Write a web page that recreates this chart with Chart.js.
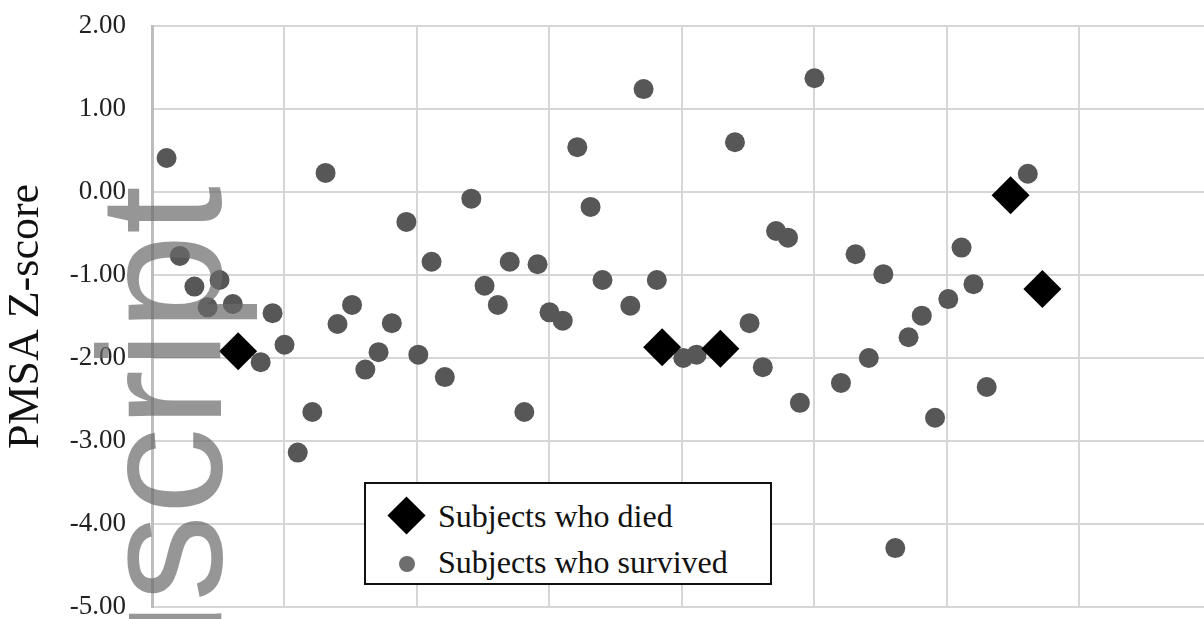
<!DOCTYPE html>
<html>
<head>
<meta charset="utf-8">
<script src="https://cdn.jsdelivr.net/npm/chart.js@4.4.1/dist/chart.umd.min.js"></script>
<style>
  html, body { margin: 0; padding: 0; background: #fff; overflow: hidden; }
  #wrap { position: relative; width: 1204px; height: 619px; }
  #legend {
    position: absolute; left: 364px; top: 482px; width: 404px; height: 99px;
    border: 2px solid #111; background: #fff;
    font-family: "Liberation Serif", "DejaVu Serif", serif; font-size: 32px; color: #111;
  }
  .row { position: absolute; left: 0; right: 0; height: 40px; line-height: 40px; white-space: nowrap; }
  .mk { position: absolute; }
  .txt { position: absolute; left: 72px; top: 0; }
</style>
</head>
<body>
<div id="wrap">
  <canvas id="chart" width="1204" height="619"></canvas>
  <div id="legend"></div>
</div>
<script>
// subject position along the x axis (grid every 10) and PMSA Z-scores
const diedX = [6.5, 38.5, 42.9, 64.8, 67.2];
const diedY = [-1.92, -1.87, -1.89, -0.04, -1.17];

const survivedX = [1.1, 2.1, 3.2, 4.2, 5.1, 6.1, 8.2, 9.1, 10.0, 11.0,
  12.1, 13.1, 14.0, 15.1, 16.1, 17.1, 18.1, 19.2, 20.1, 21.1,
  22.1, 24.1, 25.1, 26.1, 27.0, 28.1, 29.1, 30.0, 31.0, 32.1,
  33.1, 34.0, 36.1, 37.1, 38.1, 40.1, 41.1, 44.0, 45.1, 46.1,
  47.1, 48.0, 48.9, 50.0, 52.0, 53.1, 54.1, 55.2, 56.1, 57.1,
  58.1, 59.1, 60.1, 61.1, 62.0, 63.0, 66.1];
const survivedY = [0.41, -0.77, -1.14, -1.39, -1.06, -1.35, -2.05, -1.46, -1.84, -3.14,
  -2.65, 0.23, -1.59, -1.36, -2.14, -1.93, -1.58, -0.36, -1.96, -0.84,
  -2.23, -0.08, -1.13, -1.36, -0.84, -2.65, -0.87, -1.45, -1.55, 0.54,
  -0.18, -1.06, -1.37, 1.24, -1.06, -2.00, -1.96, 0.60, -1.58, -2.11,
  -0.47, -0.55, -2.54, 1.37, -2.30, -0.75, -2.00, -0.99, -4.29, -1.75,
  -1.49, -2.72, -1.29, -0.67, -1.11, -2.35, 0.22];

const yTicks = [-5, -4, -3, -2, -1, 0, 1, 2];

const pts = (xs, ys) => xs.map((x, i) => ({x: x, y: ys[i]}));

const gridColor = '#d6d6d6';

// grey watermark text drawn over the plot
const watermark = {
  id: 'watermark',
  afterDraw(chart) {
    const ctx = chart.ctx;
    ctx.save();
    ctx.translate(221, 186);
    ctx.rotate(-Math.PI / 2);
    ctx.font = '174px "Liberation Sans", Arial, sans-serif';
    ctx.fillStyle = 'rgba(105,105,105,0.7)';
    ctx.textAlign = 'right';
    ctx.textBaseline = 'alphabetic';
    ctx.fillText('Manuscript', 0, 0);
    ctx.restore();
  }
};

const chart = new Chart(document.getElementById('chart'), {
  type: 'scatter',
  data: {
    datasets: [
      {
        label: 'Subjects who died',
        data: pts(diedX, diedY),
        pointStyle: 'rectRot',
        pointRadius: 19,
        backgroundColor: '#000',
        borderWidth: 0,
        order: 0
      },
      {
        label: 'Subjects who survived',
        data: pts(survivedX, survivedY),
        pointStyle: 'circle',
        pointRadius: 10,
        backgroundColor: '#575757',
        borderWidth: 0,
        order: 1
      }
    ]
  },
  options: {
    responsive: false,
    animation: false,
    layout: { autoPadding: false, padding: { top: 26, bottom: 12, left: 0, right: 0 } },
    plugins: {
      legend: { display: false },
      tooltip: { enabled: false }
    },
    scales: {
      x: {
        type: 'linear',
        min: 0,
        max: 79.4,
        afterFit: s => { s.height = 0; s.paddingLeft = 0; s.paddingRight = 0; },
        ticks: { display: false, stepSize: 10, includeBounds: false },
        grid: { color: gridColor, lineWidth: 2, drawTicks: false },
        border: { color: gridColor, width: 2 }
      },
      y: {
        min: -5,
        max: 2,
        afterBuildTicks: s => { s.ticks = yTicks.map(v => ({value: v})); },
        afterFit: s => { s.width = 152; s.paddingTop = 0; s.paddingBottom = 0; },
        ticks: {
          padding: 26,
          color: '#222',
          font: { family: '"Liberation Serif", serif', size: 27 },
          callback: v => v.toFixed(2)
        },
        grid: { color: gridColor, lineWidth: 2, drawTicks: false },
        border: { color: '#bdbdbd', width: 3 },
        title: {
          display: true,
          text: 'PMSA Z-score',
          color: '#111',
          padding: 0,
          font: { family: '"Liberation Serif", serif', size: 44 }
        }
      }
    }
  },
  plugins: [watermark]
});

// legend box built from the datasets
const legend = document.getElementById('legend');
chart.data.datasets.forEach((ds, i) => {
  const row = document.createElement('div');
  row.className = 'row';
  row.style.top = (12 + i * 46) + 'px';
  const mk = document.createElement('div');
  mk.className = 'mk';
  if (ds.pointStyle === 'rectRot') {
    Object.assign(mk.style, { width: '27px', height: '27px', left: '27px', top: '6px',
      background: ds.backgroundColor, transform: 'rotate(45deg)' });
  } else {
    Object.assign(mk.style, { width: '16px', height: '16px', left: '33px', top: '14px',
      background: '#6e6e6e', borderRadius: '50%' });
  }
  const txt = document.createElement('span');
  txt.className = 'txt';
  txt.textContent = ds.label;
  row.appendChild(mk);
  row.appendChild(txt);
  legend.appendChild(row);
});
</script>
</body>
</html>
